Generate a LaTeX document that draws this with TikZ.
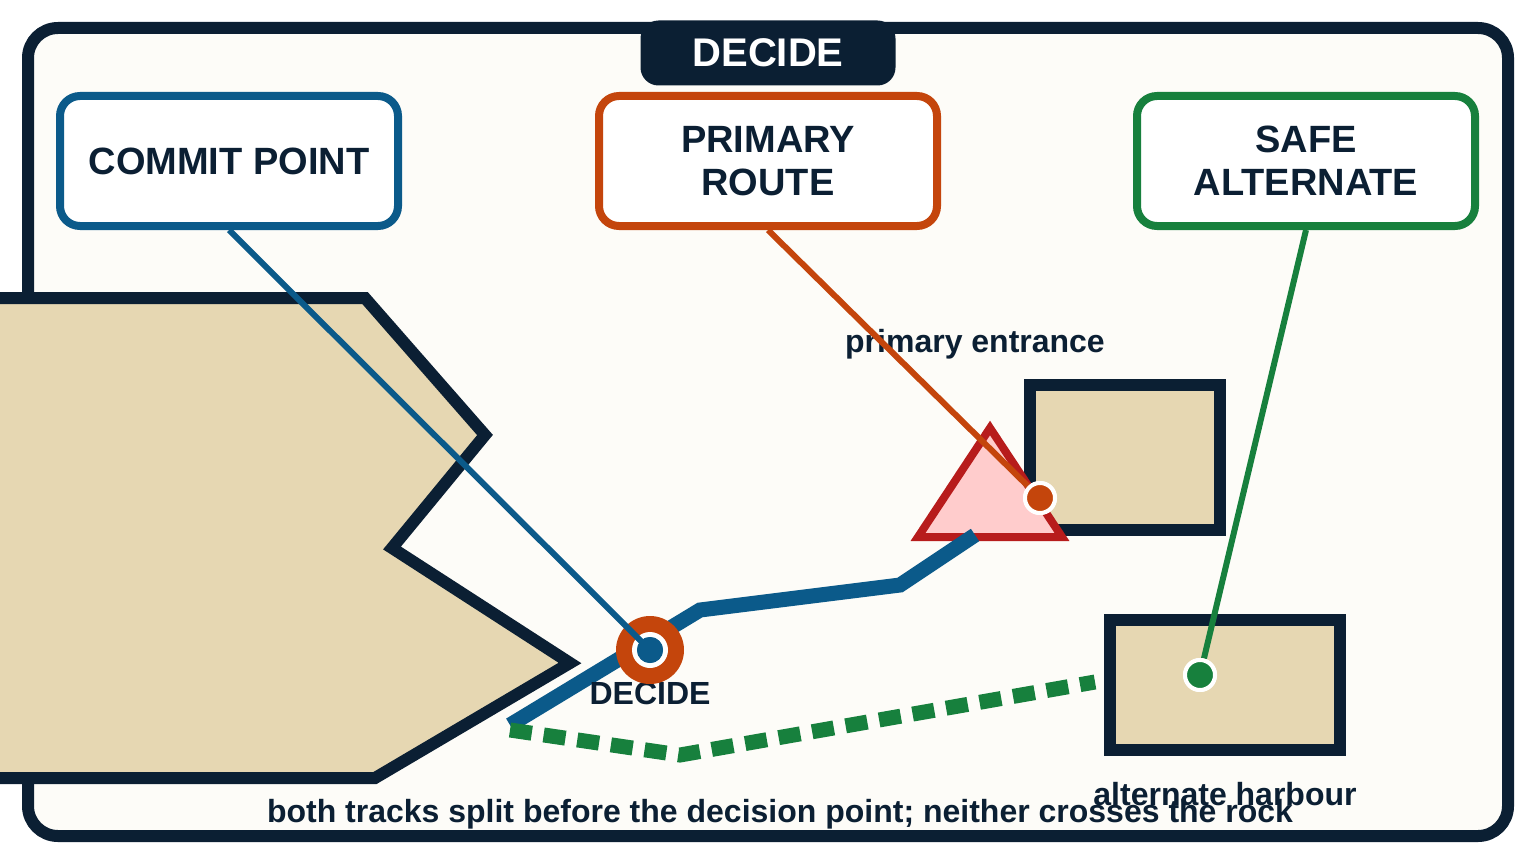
\documentclass[tikz,border=0pt]{standalone}
\usepackage{fontspec}
\setmainfont{Liberation Sans}
\definecolor{navy}{HTML}{0B1F33}
\definecolor{cblue}{HTML}{0B5A8A}
\definecolor{corange}{HTML}{C4450C}
\definecolor{cgreen}{HTML}{17803D}
\definecolor{sand}{HTML}{E6D7B2}
\definecolor{paper}{HTML}{FDFCF8}
\definecolor{tred}{HTML}{B71C1C}
\definecolor{tpink}{HTML}{FFCCCC}
\begin{document}
\begin{tikzpicture}[x=1pt,y=-1pt,
  hbox/.style={draw=#1,line width=8pt,rounded corners=20pt,fill=white,minimum width=338pt,minimum height=130pt,align=center,font=\fontsize{38}{43}\selectfont\bfseries,text=navy},
  lbl/.style={font=\fontsize{32}{36}\selectfont\bfseries,text=navy,inner sep=0},
  dot/.style={circle,draw=white,line width=4pt,fill=#1,minimum size=30pt,inner sep=0}]
\useasboundingbox (0,0) rectangle (1536,864);
\fill[white] (0,0) rectangle (1536,864);
\draw[navy,line width=12pt,fill=paper,rounded corners=30pt] (28,28) rectangle (1508,836);
\node[fill=navy,rounded corners=18pt,minimum width=255pt,minimum height=65pt,text=white,font=\fontsize{40}{44}\selectfont\bfseries] (title) at (768,53) {DECIDE};
\node[hbox=cblue] (commit) at (229,161) {COMMIT POINT};
\node[hbox=corange] (primary) at (768,161) {PRIMARY\\ROUTE};
\node[hbox=cgreen] (safe) at (1306,161) {SAFE\\ALTERNATE};
% land
\draw[navy,line width=12pt,fill=sand,line join=miter] (-10,298) -- (365,298) -- (485,435) -- (392,548) -- (570,663) -- (375,778) -- (-10,778) -- cycle;
\draw[navy,line width=12pt,fill=sand] (1030,385) rectangle (1220,530);
\draw[navy,line width=12pt,fill=sand] (1110,620) rectangle (1340,750);
\draw[tred,line width=8pt,fill=tpink,line join=miter] (990,428) -- (918,537) -- (1062,537) -- cycle;
% tracks
\coordinate (b0) at (510,725);
\coordinate (b1) at (700,610);
\coordinate (b2) at (900,585);
\coordinate (b3) at (975,535);
\draw[cblue,line width=15pt] (b0) -- (b1) -- (b2) -- (b3);
\coordinate (g0) at (510,730);
\coordinate (g1) at (680,755);
\coordinate (g2) at (1095,682);
\draw[cgreen,line width=15pt,dash pattern=on 22pt off 12pt] (g0) -- (g1) -- (g2);
\node[lbl] (pe) at (975,344) {primary entrance};
\node[lbl] (cap) at (780,814) {both tracks split before the decision point; neither crosses the rock};
\node[lbl] (ah) at (1225,794) {alternate harbour};
\node[lbl] (dl) at (650,693) {DECIDE};
% decide marker
\node[circle,fill=corange,minimum size=68pt,inner sep=0] (dm) at (650,650) {};
\node[circle,fill=white,minimum size=36pt,inner sep=0] at (dm) {};
\node[circle,fill=cblue,minimum size=26pt,inner sep=0] (dc) at (dm) {};
\node[dot=corange] (pd) at (1040,498) {};
\node[dot=cgreen] (sd) at (1200,675) {};
\draw[cblue,line width=6pt] (commit.south) -- (dc.center);
\draw[corange,line width=6pt] (primary.south) -- (pd);
\draw[cgreen,line width=6pt] (safe.south) -- (sd);
\node[circle,fill=cblue,minimum size=26pt,inner sep=0] at (dm) {};
\node[dot=corange] at (pd) {};
\node[dot=cgreen] at (sd) {};
\end{tikzpicture}
\end{document}
